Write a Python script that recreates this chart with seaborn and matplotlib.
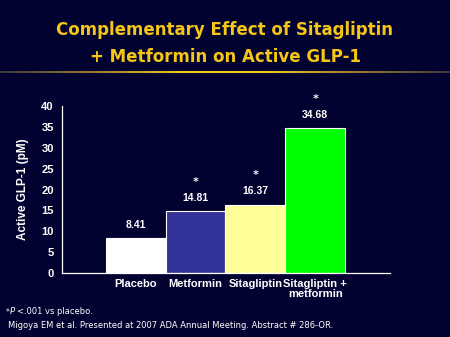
import matplotlib
matplotlib.use("Agg")
import matplotlib.pyplot as plt
import seaborn as sns
import numpy as np
import pandas as pd
from matplotlib.colors import LinearSegmentedColormap
from matplotlib import font_manager

categories = ["Placebo", "Metformin", "Sitagliptin", "Sitagliptin +\nmetformin"]
values = [8.41, 14.81, 16.37, 34.68]
significant = [False, True, True, True]
bar_colors = ["#FFFFFF", "#333399", "#FFFF99", "#00FF00"]
yticks = [0, 5, 10, 15, 20, 25, 30, 35, 40]

BG = "#020230"
GOLD = "#F5C518"

sns.set_style("dark")
plt.rcParams['font.family'] = ['DejaVu Sans']

names = {f.name for f in font_manager.fontManager.ttflist}
NARROW = "Liberation Sans Narrow" if "Liberation Sans Narrow" in names else "Liberation Sans"

fig = plt.figure(figsize=(4.5, 3.37), dpi=100)
fig.patch.set_facecolor(BG)

W, H = 450, 337
def ax_rect(x0, y0, x1, y1):
    return [x0 / W, 1 - y1 / H, (x1 - x0) / W, (y1 - y0) / H]

ax = fig.add_axes(ax_rect(62, 106, 390, 273))
ax.set_facecolor(BG)

df = pd.DataFrame({"cat": categories, "val": values})
sns.barplot(data=df, x="cat", y="val", hue="cat", palette=bar_colors,
            width=1.0, edgecolor="white", linewidth=0.8, legend=False, ax=ax,
            saturation=1)

ax.set_xlim(-1.23, 4.25)
ax.set_ylim(0, 40)
ax.set_yticks(yticks)
ax.set_yticklabels([str(t) for t in yticks], color="white", fontsize=8, fontweight="bold",
                   family=NARROW)
ax.tick_params(axis="y", colors="white", length=3, width=0.8, direction="out", pad=3)
ax.tick_params(axis="x", length=0, pad=4)
ax.set_xticks(range(len(categories)))
ax.set_xticklabels(categories, color="white", fontsize=8, fontweight="bold",
                   linespacing=1.0, family=NARROW)
ax.set_xlabel("")
ax.set_ylabel("Active GLP-1 (pM)", color="white", fontsize=8.5, fontweight="bold",
              labelpad=9, family=NARROW)
ax.grid(False)
for s in ["top", "right"]:
    ax.spines[s].set_visible(False)
for s in ["left", "bottom"]:
    ax.spines[s].set_visible(True)
    ax.spines[s].set_color("white")
    ax.spines[s].set_linewidth(0.9)

for i, (v, sig) in enumerate(zip(values, significant)):
    ax.text(i, v + 2.0, f"{v:.2f}", ha="center", va="bottom", color="white",
            fontsize=7.5, fontweight="bold", family=NARROW)
    if sig:
        ax.text(i, v + 5.8, "*", ha="center", va="bottom", color="white",
                fontsize=8, fontweight="bold")

# Title
fig.text(0.5, 1 - 30 / H, "Complementary Effect of Sitagliptin", ha="center", va="center",
         color=GOLD, fontsize=12, fontweight="bold")
fig.text(0.5, 1 - 57 / H, "+ Metformin on Active GLP-1", ha="center", va="center",
         color=GOLD, fontsize=12, fontweight="bold")

# gradient rule under title
lax = fig.add_axes(ax_rect(0, 71, 450, 73.5))
lax.axis("off")
cmap = LinearSegmentedColormap.from_list("g", ["#3a3838", "#9a7a30", GOLD, GOLD, "#9a7a30", "#3a3838"])
lax.imshow(np.linspace(0, 1, 256)[None, :], aspect="auto", cmap=cmap,
           extent=[0, 1, 0, 1])

# Footnotes
fig.text(6 / W, 1 - 312 / H, "*", color="white", fontsize=5.5, va="center", ha="left")
fig.text(10 / W, 1 - 312 / H, "P", color="white", fontsize=6, style="italic", va="center", ha="left")
fig.text(17 / W, 1 - 312 / H, "<.001 vs placebo.", color="white", fontsize=6, va="center", ha="left")
fig.text(8 / W, 1 - 326 / H, "Migoya EM et al. Presented at 2007 ADA Annual Meeting. Abstract # 286-OR.",
         color="white", fontsize=6, va="center", ha="left")

fig.savefig("out.png", dpi=100, facecolor=BG)
